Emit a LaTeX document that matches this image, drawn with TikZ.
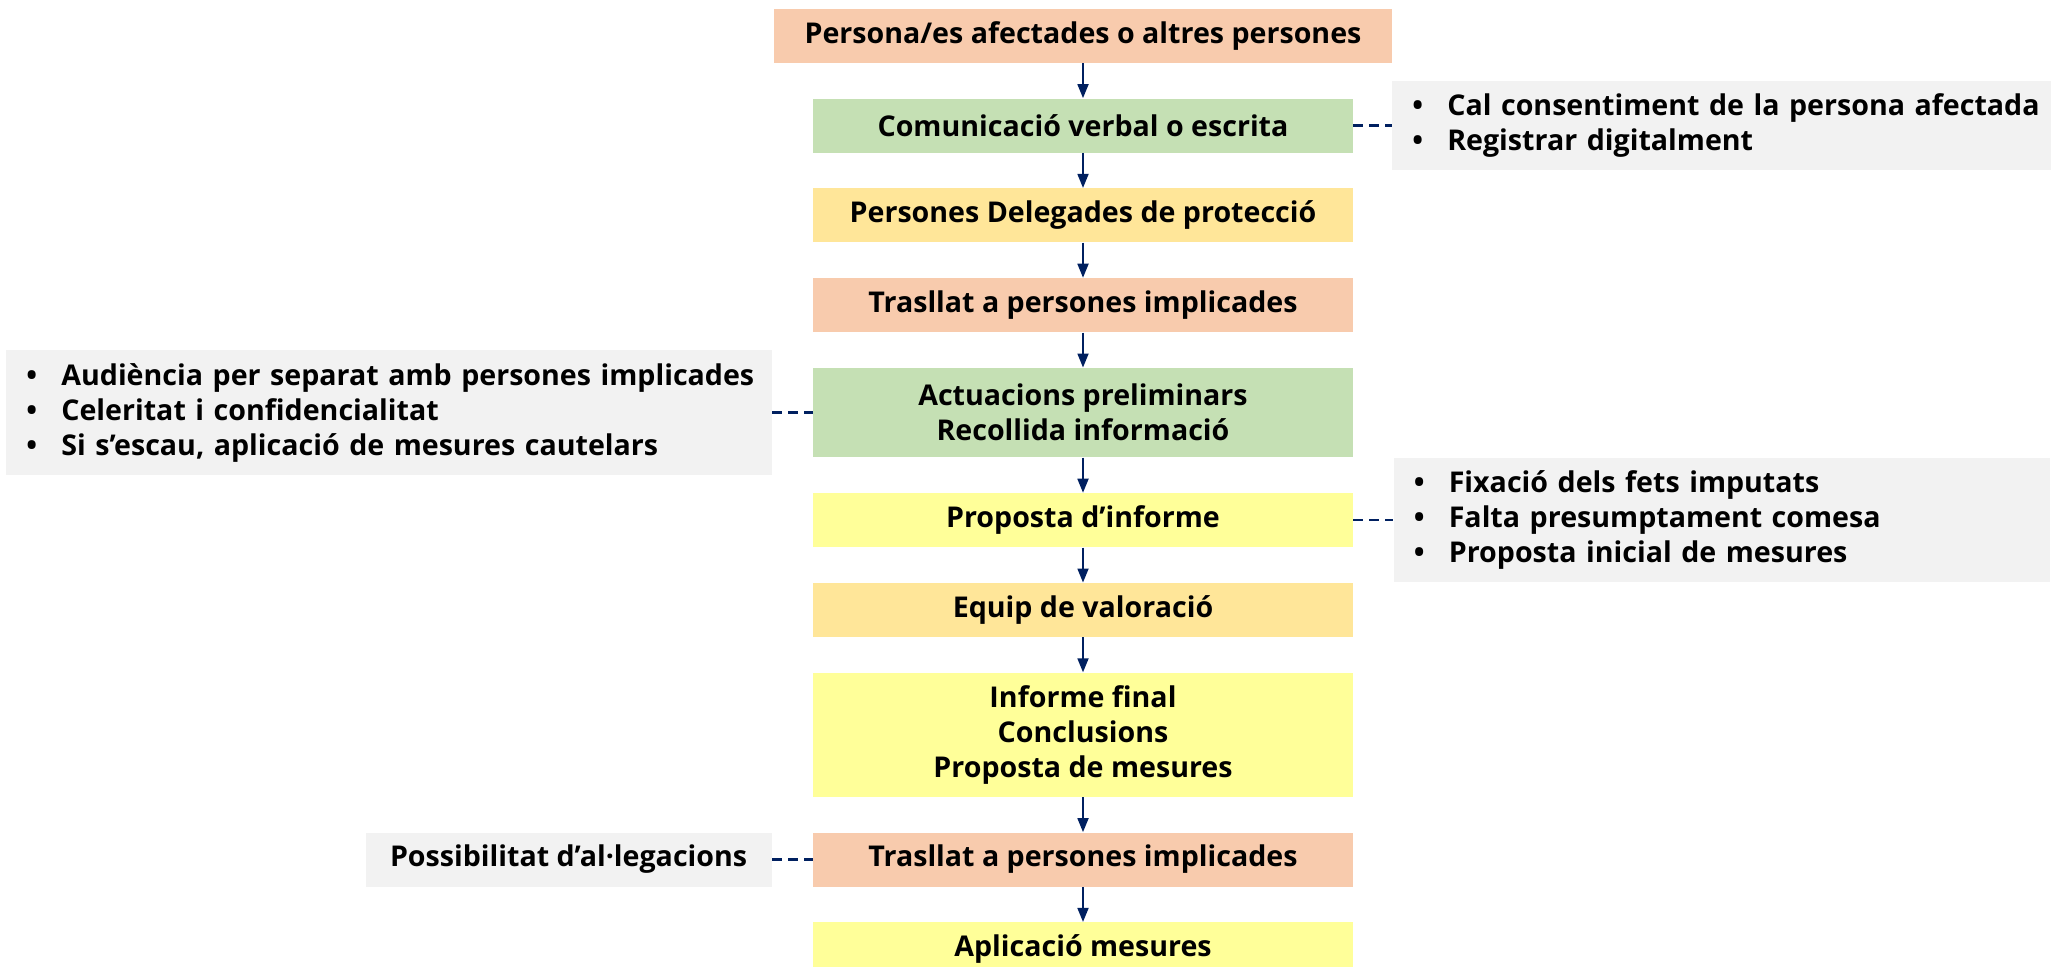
\documentclass[tikz,border=0pt]{standalone}
\usepackage{fontspec}
\setmainfont{Open Sans}
\usetikzlibrary{positioning,arrows.meta}
\definecolor{salmo}{HTML}{F8CBAD}
\definecolor{verd}{HTML}{C5E0B4}
\definecolor{groc}{HTML}{FFE699}
\definecolor{grocclar}{HTML}{FFFF99}
\definecolor{gris}{HTML}{F2F2F2}
\definecolor{blau}{HTML}{002060}
\newcommand{\punt}[1]{\makebox[17.5pt][l]{\textbullet}\mbox{#1}}
\begin{document}
\begin{tikzpicture}[node distance=17.5pt, font=\fontsize{14.3}{17.5}\selectfont\bfseries]
\tikzstyle{pas}=[minimum width=270pt, minimum height=27pt, inner sep=0pt, align=center]
\tikzstyle{nota}=[fill=gris, inner ysep=0pt, inner xsep=10pt, align=left]
\tikzstyle{fletxa}=[draw=blau, line width=0.9pt, -{Triangle[length=7pt,width=5.5pt]}]
\tikzstyle{ratlla}=[draw=blau, line width=1.2pt, dash pattern=on 5pt off 3pt]
\useasboundingbox (0,0) rectangle (1025.5pt,-483pt);
\node[pas, fill=salmo, minimum width=309pt, minimum height=26.7pt] (origen) at (541.5pt,-18pt) {Persona/es afectades o altres persones};
\node[pas, fill=verd, below=of origen] (comunicacio) {Comunicació verbal o escrita};
\node[pas, fill=groc, below=of comunicacio] (delegades) {Persones Delegades de protecció};
\node[pas, fill=salmo, below=of delegades] (trasllat) {Trasllat a persones implicades};
\node[pas, fill=verd, minimum height=44.7pt, below=of trasllat] (preliminars) {Actuacions preliminars\\Recollida informació};
\node[pas, fill=grocclar, below=of preliminars] (proposta) {Proposta d’informe};
\node[pas, fill=groc, below=of proposta] (equip) {Equip de valoració};
\node[pas, fill=grocclar, minimum height=62pt, below=of equip] (final) {Informe final\\Conclusions\\Proposta de mesures};
\node[pas, fill=salmo, below=of final] (trasllatfinal) {Trasllat a persones implicades};
\node[pas, fill=grocclar, below=of trasllatfinal] (aplicacio) {Aplicació mesures};
\node[nota, right=19.25pt of comunicacio, minimum height=44.7pt, text width=309.5pt] (consentiment) {\punt{Cal consentiment de la persona afectada}\\\punt{Registrar digitalment}};
\node[nota, left=20.3pt of preliminars, minimum height=62.5pt, text width=362.6pt] (audiencia) {\punt{Audiència per separat amb persones implicades}\\\punt{Celeritat i confidencialitat}\\\punt{Si s’escau, aplicació de mesures cautelars}};
\node[nota, right=20pt of proposta, minimum height=61.7pt, text width=308pt] (fixacio) {\punt{Fixació dels fets imputats}\\\punt{Falta presumptament comesa}\\\punt{Proposta inicial de mesures}};
\node[nota, left=20.3pt of trasllatfinal, minimum height=27pt, minimum width=203pt, inner sep=0pt, align=center] (allegacions) {Possibilitat d’al·legacions};
\draw[fletxa] (origen) -- (comunicacio);
\draw[fletxa] (comunicacio) -- (delegades);
\draw[fletxa] (delegades) -- (trasllat);
\draw[fletxa] (trasllat) -- (preliminars);
\draw[fletxa] (preliminars) -- (proposta);
\draw[fletxa] (proposta) -- (equip);
\draw[fletxa] (equip) -- (final);
\draw[fletxa] (final) -- (trasllatfinal);
\draw[fletxa] (trasllatfinal) -- (aplicacio);
\draw[ratlla] (comunicacio) -- (consentiment);
\draw[ratlla] (audiencia) -- (preliminars);
\draw[ratlla] (proposta) -- (fixacio);
\draw[ratlla] (allegacions) -- (trasllatfinal);
\end{tikzpicture}
\end{document}
